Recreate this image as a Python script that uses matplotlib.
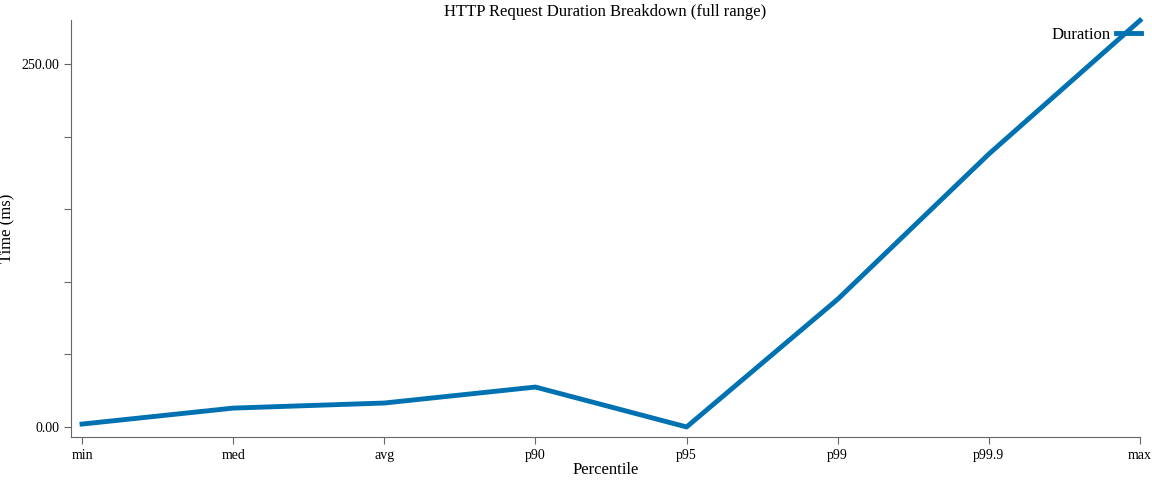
import matplotlib
matplotlib.use("Agg")
import matplotlib.pyplot as plt

categories = ["min", "med", "avg", "p90", "p95", "p99", "p99.9", "max"]
durations = [2, 13, 16.5, 27.5, 0, 88, 188, 280]

plt.rcParams['font.family'] = ['Liberation Serif', 'DejaVu Serif']
fig = plt.figure(figsize=(11.52, 4.8), dpi=100)
ax = fig.add_axes([71/1152, 1-437/480, (1140-71)/1152, 417/480])
x = list(range(len(categories)))
ax.plot(x, durations, color="#0072b2", lw=3.5, label="Duration", clip_on=False)
ax.set_xlim(-0.073, 7)
ax.set_ylim(-6.9, 280.3)
ax.set_xticks(x)
ax.set_xticklabels(categories, fontsize=10)
ax.set_yticks([0, 50, 100, 150, 200, 250])
ax.set_yticklabels(["0.00", "", "", "", "", "250.00"], fontsize=10)
for s in ["top", "right"]:
    ax.spines[s].set_visible(False)
for s in ["left", "bottom"]:
    ax.spines[s].set_color("#666666")
ax.tick_params(colors="#666666", labelcolor="black", length=5)
ax.set_xlabel("Percentile", fontsize=12, labelpad=0)
ax.set_ylabel("Time (ms)", fontsize=12)
ax.set_title("HTTP Request Duration Breakdown (full range)", fontsize=12, pad=2)
ax.legend(loc="upper right", bbox_to_anchor=(1.015, 1.02), frameon=False, markerfirst=False,
          fontsize=12, handlelength=1.5, handletextpad=0.3)
fig.savefig("out.png", dpi=100)
